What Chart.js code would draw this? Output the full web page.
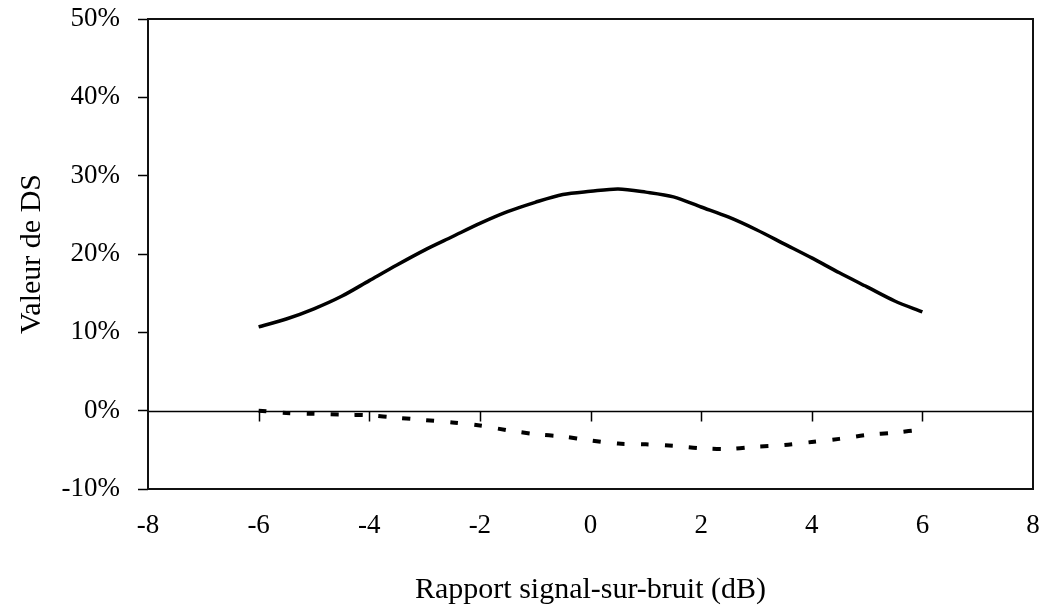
<!DOCTYPE html>
<html>
<head>
<meta charset="utf-8">
<script src="https://cdn.jsdelivr.net/npm/chart.js@4.4.1/dist/chart.umd.min.js"></script>
<style>
  html, body { margin: 0; padding: 0; background: #fff; }
  #wrap { width: 1045px; height: 610px; position: relative; }
</style>
</head>
<body>
<div id="wrap"><canvas id="c" width="1045" height="610"></canvas></div>
<script>
// Data
const snr = [-6, -5.5, -5, -4.5, -4, -3.5, -3, -2.5, -2, -1.5, -1, -0.5, 0, 0.5, 1, 1.5, 2, 2.5, 3, 3.5, 4, 4.5, 5, 5.5, 6];
const solidSeries = [10.7, 11.7, 13.0, 14.6, 16.6, 18.6, 20.5, 22.2, 23.9, 25.4, 26.6, 27.6, 28.0, 28.3, 27.9, 27.3, 26.0, 24.7, 23.1, 21.3, 19.5, 17.6, 15.8, 14.0, 12.6];
const dashedSeries = [0.0, -0.3, -0.4, -0.5, -0.6, -0.9, -1.2, -1.5, -1.9, -2.5, -3.0, -3.3, -3.8, -4.2, -4.3, -4.5, -4.8, -4.9, -4.6, -4.4, -4.0, -3.6, -3.1, -2.8, -2.4];
const xTickValues = [-8, -6, -4, -2, 0, 2, 4, 6, 8];
const yTickValues = [-10, 0, 10, 20, 30, 40, 50];
const xTitle = 'Rapport signal-sur-bruit (dB)';
const yTitle = 'Valeur de DS';

const FONT = "'Liberation Serif', 'Times New Roman', serif";
const FSIZE = 27;
const TSIZE = 30;

const framePlugin = {
  id: 'frame',
  afterDatasetsDraw(chart) {
    const { ctx, chartArea: a, scales } = chart;
    const xs = scales.x, ys = scales.y;
    ctx.save();
    const y0 = Math.round(ys.getPixelForValue(0)) + 0.5;
    ctx.strokeStyle = '#000';
    ctx.lineWidth = 1.5;
    ctx.beginPath();
    ctx.moveTo(a.left, y0);
    ctx.lineTo(a.right, y0);
    xTickValues.slice(1, -1).forEach(v => {
      const px = Math.round(xs.getPixelForValue(v)) + 0.5;
      ctx.moveTo(px, y0);
      ctx.lineTo(px, y0 + 10);
    });
    ctx.stroke();
    ctx.lineWidth = 2;
    ctx.strokeStyle = '#111';
    ctx.strokeRect(a.left, a.top, a.right - a.left, a.bottom - a.top);
    ctx.restore();
  }
};

function zeroPad(s) { s.paddingLeft = 0; s.paddingRight = 0; s.paddingTop = 0; s.paddingBottom = 0; }

new Chart(document.getElementById('c'), {
  type: 'line',
  data: {
    datasets: [
      {
        data: snr.map((x, i) => ({ x, y: solidSeries[i] })),
        borderColor: '#000',
        borderWidth: 3.5,
        pointRadius: 0,
        tension: 0.3,
        fill: false
      },
      {
        data: snr.map((x, i) => ({ x, y: dashedSeries[i] })),
        borderColor: '#000',
        borderWidth: 4,
        borderDash: [8, 16],
        borderCapStyle: 'butt',
        pointRadius: 0,
        tension: 0.3,
        fill: false
      }
    ]
  },
  options: {
    responsive: false,
    animation: false,
    devicePixelRatio: 1,
    layout: { padding: { top: 19, right: 12, bottom: 0, left: 0 } },
    plugins: { legend: { display: false }, tooltip: { enabled: false } },
    scales: {
      x: {
        type: 'linear',
        min: -8, max: 8,
        afterBuildTicks: s => { s.ticks = xTickValues.map(v => ({ value: v })); },
        afterFit: s => { s.height = 121; zeroPad(s); },
        grid: { display: false, drawTicks: false },
        border: { display: false },
        ticks: {
          padding: 21,
          color: '#000',
          font: { family: FONT, size: FSIZE },
          maxRotation: 0,
          callback: v => String(v)
        },
        title: {
          display: true,
          text: xTitle,
          color: '#000',
          font: { family: FONT, size: TSIZE },
          padding: { top: 0, bottom: 2 }
        }
      },
      y: {
        type: 'linear',
        min: -10, max: 50,
        afterBuildTicks: s => { s.ticks = yTickValues.map(v => ({ value: v })); },
        afterFit: s => { s.width = 148; zeroPad(s); },
        grid: { display: true, drawOnChartArea: false, drawTicks: true, tickLength: 10, tickColor: '#000', tickWidth: 1.5 },
        border: { display: false },
        ticks: {
          padding: 18,
          color: '#000',
          font: { family: FONT, size: FSIZE },
          callback: v => v + '%'
        },
        title: {
          display: true,
          text: yTitle,
          color: '#000',
          font: { family: FONT, size: TSIZE },
          padding: { top: 14, bottom: 0 }
        }
      }
    }
  },
  plugins: [framePlugin]
});
</script>
</body>
</html>
